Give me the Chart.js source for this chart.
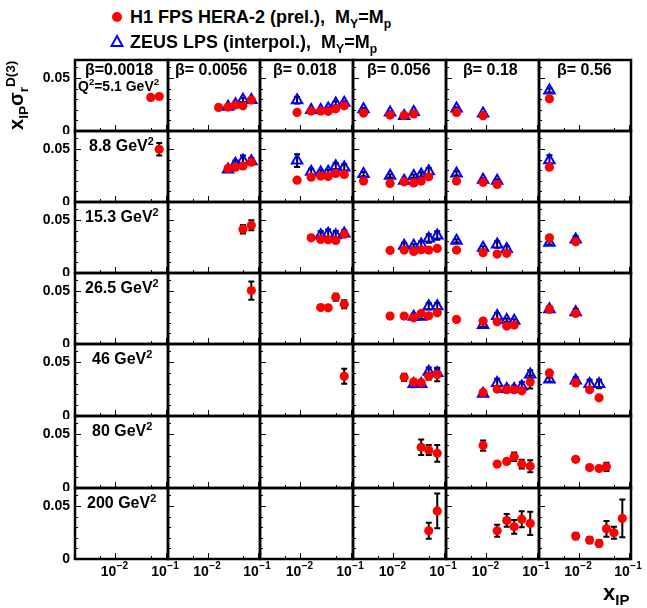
<!DOCTYPE html>
<html><head><meta charset="utf-8">
<script src="https://cdn.jsdelivr.net/npm/chart.js@4.4.1/dist/chart.umd.min.js"></script>
<style>
body{margin:0;background:#fff;}
#wrap{position:relative;width:647px;height:608px;overflow:hidden;font-family:"Liberation Sans",Arial,Helvetica,sans-serif;font-weight:bold;color:#000;background:#fff;}
canvas{position:absolute;}
.lbl{position:absolute;white-space:nowrap;line-height:1;}
.lbl sub,.lbl sup{font-size:68%;line-height:0;}
</style></head>
<body><div id="wrap"></div>
<script>
// ---------- data ----------
const betaLabels = ["0.0018", "0.0056", "0.018", "0.056", "0.18", "0.56"];
const q2Labels = ["5.1", "8.8", "15.3", "26.5", "46", "80", "200"];
const yTickLabels = [0, 0.05];
const xTickLabels = [0.01, 0.1];

// each point: [betaIndex, xIP, xIP*sigma_r^D(3), error]
const h1_Q2_5p1 = [
  [0,0.0505,0.0316,0.001],[0,0.0743,0.0325,0.001],
  [1,0.0165,0.0222,0.001],[1,0.0255,0.0225,0.001],[1,0.0358,0.0244,0.001],[1,0.0505,0.0237,0.001],[1,0.0743,0.0291,0.001],
  [2,0.0087,0.0175,0.001],[2,0.0165,0.0188,0.001],[2,0.0255,0.0188,0.001],[2,0.0358,0.0185,0.001],[2,0.0505,0.0209,0.001],[2,0.0743,0.0237,0.001],
  [3,0.0026,0.0169,0.001],[3,0.0087,0.0150,0.001],[3,0.0165,0.0147,0.001],[3,0.0255,0.0160,0.001],
  [4,0.0026,0.0175,0.001],[4,0.0087,0.0144,0.001],
  [5,0.0026,0.0303,0.001]
];
const h1_Q2_8p8 = [
  [0,0.0743,0.0497,0.006],
  [1,0.0255,0.0316,0.001],[1,0.0358,0.0328,0.001],[1,0.0505,0.0340,0.001],[1,0.0743,0.0375,0.001],
  [2,0.0087,0.0206,0.001],[2,0.0165,0.0234,0.001],[2,0.0255,0.0244,0.001],[2,0.0358,0.0241,0.001],[2,0.0505,0.0269,0.001],[2,0.0743,0.0260,0.001],
  [3,0.0026,0.0197,0.001],[3,0.0087,0.0175,0.001],[3,0.0165,0.0190,0.001],[3,0.0255,0.0180,0.001],[3,0.0358,0.0197,0.001],[3,0.0505,0.0237,0.001],
  [4,0.0026,0.0197,0.001],[4,0.0087,0.0185,0.001],[4,0.0165,0.0166,0.001],
  [5,0.0026,0.0328,0.001]
];
const h1_Q2_15p3 = [
  [1,0.0505,0.0413,0.004],[1,0.0743,0.0450,0.0047],
  [2,0.0165,0.0331,0.001],[2,0.0255,0.0316,0.001],[2,0.0358,0.0313,0.001],[2,0.0505,0.0307,0.001],[2,0.0743,0.0366,0.002],
  [3,0.0087,0.0213,0.001],[3,0.0165,0.0216,0.001],[3,0.0255,0.0203,0.001],[3,0.0358,0.0219,0.001],[3,0.0505,0.0216,0.001],[3,0.0743,0.0232,0.001],
  [4,0.0026,0.0216,0.001],[4,0.0087,0.0190,0.001],[4,0.0165,0.0178,0.001],[4,0.0255,0.0185,0.001],
  [5,0.0026,0.0331,0.001],[5,0.0087,0.0294,0.001]
];
const h1_Q2_26p5 = [
  [1,0.0743,0.0503,0.0087],
  [2,0.0255,0.0344,0.001],[2,0.0358,0.0341,0.001],[2,0.0505,0.0441,0.0033],[2,0.0743,0.0375,0.0038],
  [3,0.0087,0.0263,0.001],[3,0.0165,0.0263,0.001],[3,0.0255,0.0247,0.001],[3,0.0358,0.0288,0.001],[3,0.0505,0.0266,0.001],[3,0.0743,0.0294,0.001],
  [4,0.0026,0.0232,0.001],[4,0.0087,0.0216,0.001],[4,0.0165,0.0209,0.001],[4,0.0255,0.0169,0.001],[4,0.0358,0.0178,0.001],
  [5,0.0026,0.0328,0.001],[5,0.0087,0.0288,0.001]
];
const h1_Q2_46 = [
  [2,0.0743,0.0369,0.0069],
  [3,0.0165,0.0359,0.0033],[3,0.0255,0.0316,0.002],[3,0.0358,0.0310,0.002],[3,0.0505,0.0369,0.003],[3,0.0743,0.0385,0.0063],
  [4,0.0087,0.0219,0.0015],[4,0.0165,0.0250,0.001],[4,0.0255,0.0244,0.001],[4,0.0358,0.0244,0.001],[4,0.0505,0.0234,0.001],[4,0.0743,0.0316,0.006],
  [5,0.0026,0.0400,0.001],[5,0.0087,0.0307,0.001],[5,0.0165,0.0244,0.001],[5,0.0255,0.0169,0.001]
];
const h1_Q2_80 = [
  [3,0.0358,0.0378,0.0072],[3,0.0505,0.0353,0.0047],[3,0.0743,0.0322,0.0078],
  [4,0.0087,0.0394,0.0047],[4,0.0165,0.0222,0.0015],[4,0.0255,0.0247,0.0015],[4,0.0358,0.0291,0.004],[4,0.0505,0.0222,0.004],[4,0.0743,0.0203,0.0056],
  [5,0.0087,0.0266,0.0015],[5,0.0165,0.0190,0.001],[5,0.0255,0.0181,0.001],[5,0.0358,0.0197,0.0038]
];
const h1_Q2_200 = [
  [3,0.0505,0.0266,0.0075],[3,0.0743,0.0453,0.0163],
  [4,0.0165,0.0266,0.0056],[4,0.0255,0.0363,0.006],[4,0.0358,0.0303,0.0065],[4,0.0505,0.0375,0.0075],[4,0.0743,0.0335,0.011],
  [5,0.0087,0.0216,0.003],[5,0.0165,0.0178,0.003],[5,0.0255,0.0147,0.003],[5,0.0358,0.0284,0.0075],[5,0.0505,0.0247,0.0056],[5,0.0743,0.0382,0.0178]
];

const zeus_Q2_5p1 = [
  [1,0.0255,0.0228,0.001],[1,0.0358,0.0253,0.0015],[1,0.0505,0.0294,0.002],[1,0.0743,0.0291,0.0015],
  [2,0.0087,0.0290,0.003],[2,0.0165,0.0197,0.001],[2,0.0255,0.0197,0.001],[2,0.0358,0.0213,0.001],[2,0.0505,0.0260,0.002],[2,0.0743,0.0266,0.0015],
  [3,0.0026,0.0206,0.001],[3,0.0087,0.0175,0.001],[3,0.0165,0.0141,0.001],[3,0.0255,0.0180,0.001],
  [4,0.0026,0.0213,0.001],[4,0.0087,0.0166,0.001],
  [5,0.0026,0.0382,0.002]
];
const zeus_Q2_8p8 = [
  [1,0.0255,0.0307,0.0015],[1,0.0358,0.0360,0.003],[1,0.0505,0.0390,0.0047],[1,0.0743,0.0385,0.003],
  [2,0.0087,0.0390,0.006],[2,0.0165,0.0284,0.003],[2,0.0255,0.0278,0.002],[2,0.0358,0.0284,0.002],[2,0.0505,0.0338,0.003],[2,0.0743,0.0325,0.003],
  [3,0.0026,0.0263,0.002],[3,0.0087,0.0247,0.0015],[3,0.0165,0.0200,0.001],[3,0.0255,0.0244,0.0015],[3,0.0358,0.0260,0.002],[3,0.0505,0.0290,0.003],
  [4,0.0026,0.0269,0.002],[4,0.0087,0.0209,0.0015],[4,0.0165,0.0200,0.0015],
  [5,0.0026,0.0394,0.0047]
];
const zeus_Q2_15p3 = [
  [2,0.0255,0.0356,0.004],[2,0.0358,0.0369,0.004],[2,0.0505,0.0356,0.004],[2,0.0743,0.0372,0.003],
  [3,0.0165,0.0256,0.003],[3,0.0255,0.0256,0.0015],[3,0.0358,0.0269,0.003],[3,0.0505,0.0325,0.004],[3,0.0743,0.0353,0.004],
  [4,0.0026,0.0303,0.0015],[4,0.0087,0.0237,0.0015],[4,0.0165,0.0269,0.003],[4,0.0255,0.0225,0.003],
  [5,0.0026,0.0284,0.0015],[5,0.0087,0.0316,0.003]
];
const zeus_Q2_26p5 = [
  [3,0.0255,0.0256,0.003],[3,0.0358,0.0256,0.002],[3,0.0505,0.0356,0.003],[3,0.0743,0.0356,0.003],
  [4,0.0087,0.0178,0.0015],[4,0.0165,0.0263,0.003],[4,0.0255,0.0225,0.0015],[4,0.0358,0.0219,0.0015],
  [5,0.0026,0.0328,0.003],[5,0.0087,0.0300,0.003]
];
const zeus_Q2_46 = [
  [3,0.0255,0.0297,0.003],[3,0.0358,0.0297,0.002],[3,0.0505,0.0410,0.004],[3,0.0743,0.0400,0.004],
  [4,0.0087,0.0206,0.0015],[4,0.0165,0.0307,0.004],[4,0.0255,0.0250,0.003],[4,0.0358,0.0250,0.003],[4,0.0505,0.0275,0.004],[4,0.0743,0.0385,0.004],
  [5,0.0026,0.0338,0.002],[5,0.0087,0.0331,0.003],[5,0.0165,0.0297,0.004],[5,0.0255,0.0297,0.004]
];
const zeus_Q2_80 = [];
const zeus_Q2_200 = [];

const h1Rows = [h1_Q2_5p1, h1_Q2_8p8, h1_Q2_15p3, h1_Q2_26p5, h1_Q2_46, h1_Q2_80, h1_Q2_200];
const zeusRows = [zeus_Q2_5p1, zeus_Q2_8p8, zeus_Q2_15p3, zeus_Q2_26p5, zeus_Q2_46, zeus_Q2_80, zeus_Q2_200];

// ---------- layout ----------
const X_MIN = 0.00161, X_MAX = 0.1107, Y_MAX = 0.0669;
const colEdges = [75, 168, 260, 353, 446, 539, 631];
const rowEdges = [60, 131, 202, 273, 344, 416, 488, 559];
const FONT = '"Liberation Sans", Arial, Helvetica, sans-serif';
const wrap = document.getElementById('wrap');

function addLabel(html, left, top, size, extra) {
  const d = document.createElement('div');
  d.className = 'lbl';
  d.innerHTML = html;
  d.style.left = left + 'px';
  d.style.top = top + 'px';
  d.style.fontSize = size + 'px';
  if (extra) Object.assign(d.style, extra);
  wrap.appendChild(d);
  return d;
}

const panelPlugin = {
  id: 'panel',
  beforeDatasetsDraw(chart) {
    const ctx = chart.ctx, xs = chart.scales.x, ys = chart.scales.y;
    ctx.save();
    ctx.strokeStyle = '#000';
    ctx.lineWidth = 2;
    chart.data.datasets.forEach(ds => {
      ds.data.forEach(p => {
        if (!p.err) return;
        const px = xs.getPixelForValue(p.x);
        const y1 = ys.getPixelForValue(p.y - p.err), y2 = ys.getPixelForValue(p.y + p.err);
        ctx.beginPath();
        ctx.moveTo(px, y1); ctx.lineTo(px, y2);
        ctx.moveTo(px - 3, y1); ctx.lineTo(px + 3, y1);
        ctx.moveTo(px - 3, y2); ctx.lineTo(px + 3, y2);
        ctx.stroke();
      });
    });
    ctx.restore();
  },
  afterDraw(chart) {
    const o = chart.options.plugins.panel;
    const ctx = chart.ctx, a = chart.chartArea, xs = chart.scales.x, ys = chart.scales.y;
    ctx.save();
    ctx.strokeStyle = '#000';
    ctx.lineWidth = 1;
    for (let k = 1; k <= 6; k++) {
      const v = k * 0.01, py = Math.round(ys.getPixelForValue(v)) + 0.5;
      const len = (k === 5) ? 6 : 3;
      ctx.beginPath(); ctx.moveTo(a.left, py); ctx.lineTo(a.left + len, py); ctx.stroke();
    }
    [[0.005, 3], [0.01, 6], [0.05, 3], [0.1, 6]].forEach(t => {
      const px = Math.round(xs.getPixelForValue(t[0])) + 0.5;
      ctx.beginPath(); ctx.moveTo(px, a.bottom); ctx.lineTo(px, a.bottom - t[1]); ctx.stroke();
    });
    ctx.lineWidth = 2.5;
    ctx.strokeRect(a.left, a.top, a.right - a.left, a.bottom - a.top);
    ctx.fillStyle = '#000';
    if (o.col === 0) {
      ctx.font = 'bold 14px ' + FONT;
      ctx.textAlign = 'right'; ctx.textBaseline = 'middle';
      yTickLabels.forEach(v => {
        ctx.fillText(v === 0 ? '0' : String(v), a.left - 5, ys.getPixelForValue(v));
      });
    }
    if (o.row === 6) {
      xTickLabels.forEach(v => {
        const px = xs.getPixelForValue(v);
        const exp = Math.round(Math.log10(v));
        ctx.font = 'bold 14px ' + FONT;
        ctx.textBaseline = 'alphabetic'; ctx.textAlign = 'left';
        const w1 = ctx.measureText('10').width;
        ctx.font = 'bold 10px ' + FONT;
        const sup = '\u2212' + Math.abs(exp);
        const w2 = ctx.measureText(sup).width;
        const x0 = px - (w1 + w2) / 2 - 1;
        ctx.font = 'bold 14px ' + FONT;
        ctx.fillText('10', x0, a.bottom + 17);
        ctx.font = 'bold 10px ' + FONT;
        ctx.fillText(sup, x0 + w1 + 0.5, a.bottom + 10);
      });
    }
    ctx.restore();
  }
};

for (let r = 0; r < 7; r++) {
  for (let c = 0; c < 6; c++) {
    const padL = c === 0 ? 75 : 3, padR = r === 6 ? 16 : 3, padT = 3, padB = r === 6 ? 30 : 3;
    const w = colEdges[c + 1] - colEdges[c], h = rowEdges[r + 1] - rowEdges[r];
    const cv = document.createElement('canvas');
    cv.width = w + padL + padR; cv.height = h + padT + padB;
    cv.style.left = (colEdges[c] - padL) + 'px';
    cv.style.top = (rowEdges[r] - padT) + 'px';
    cv.style.width = cv.width + 'px'; cv.style.height = cv.height + 'px';
    wrap.appendChild(cv);
    const toPts = arr => arr.filter(p => p[0] === c).map(p => ({x: p[1], y: p[2], err: p[3]}));
    new Chart(cv, {
      type: 'scatter',
      data: {datasets: [
        {label: 'H1 FPS HERA-2 (prel.)', data: toPts(h1Rows[r]), pointStyle: 'circle', pointRadius: 4.6,
         backgroundColor: '#ff0000', borderColor: '#ff0000', borderWidth: 0},
        {label: 'ZEUS LPS (interpol.)', data: toPts(zeusRows[r]), pointStyle: 'triangle', pointRadius: 6,
         backgroundColor: 'rgba(0,0,0,0)', borderColor: '#0000ff', borderWidth: 2}
      ]},
      options: {
        responsive: false, animation: false, devicePixelRatio: 1, events: [],
        layout: {autoPadding: false, padding: {left: padL, right: padR, top: padT, bottom: padB}},
        plugins: {legend: {display: false}, tooltip: {enabled: false}, panel: {row: r, col: c}},
        scales: {
          x: {type: 'logarithmic', min: X_MIN, max: X_MAX, display: false},
          y: {type: 'linear', min: 0, max: Y_MAX, display: false}
        }
      },
      plugins: [panelPlugin]
    });
  }
}

// ---------- text ----------
const mk1 = document.createElement('div');
Object.assign(mk1.style, {position: 'absolute', left: '112px', top: '12px', width: '10px', height: '10px', borderRadius: '50%', background: '#ff0000'});
wrap.appendChild(mk1);
const mk2 = document.createElementNS('http://www.w3.org/2000/svg', 'svg');
mk2.setAttribute('width', '14'); mk2.setAttribute('height', '14');
mk2.style.position = 'absolute'; mk2.style.left = '110px'; mk2.style.top = '34px';
mk2.innerHTML = '<polygon points="7,2 12.5,12 1.5,12" fill="none" stroke="#0000ff" stroke-width="2"/>';
wrap.appendChild(mk2);
addLabel('H1 FPS HERA-2 (prel.),&nbsp;&nbsp;M<sub>Y</sub>=M<sub>p</sub>', 130, 8, 18);
addLabel('ZEUS LPS (interpol.),&nbsp;&nbsp;M<sub>Y</sub>=M<sub>p</sub>', 130, 33, 18);

const betaX = [85, 175, 273, 367, 463, 557];
betaLabels.forEach((b, i) => addLabel('\u03b2' + (i === 0 ? '=' : '= ') + b, betaX[i], 62, 16));
addLabel('Q<sup>2</sup>=5.1 GeV<sup>2</sup>', 78, 79, 14);
const q2X = [0, 89, 85, 85, 92, 92, 87];
q2Labels.forEach((q, i) => { if (i > 0) addLabel(q + ' GeV<sup>2</sup>', q2X[i], rowEdges[i] + 7, 16); });

addLabel('x<sub>IP</sub>', 603, 582, 22);
addLabel('x<sub>IP</sub>\u03c3<sub>r</sub><sup>D(3)</sup>', 6, 130, 20, {transformOrigin: '0 0', transform: 'rotate(-90deg)'});
</script>
</body></html>
